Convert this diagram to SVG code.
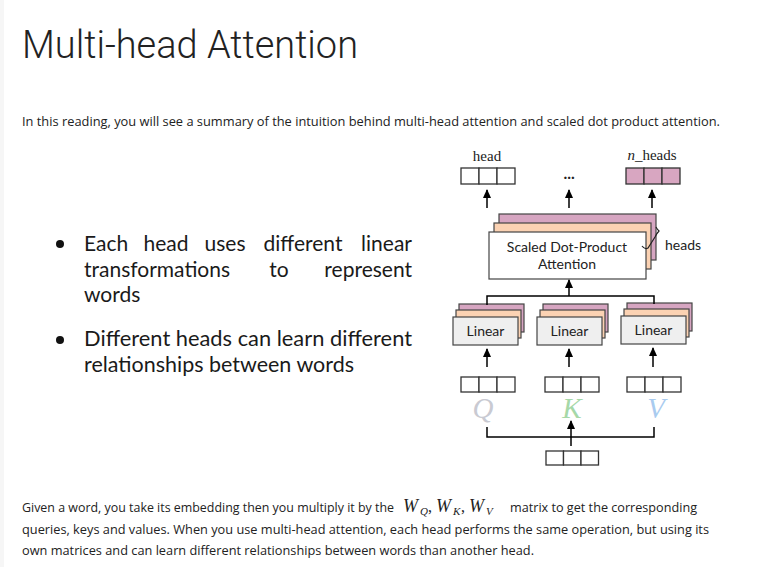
<svg xmlns="http://www.w3.org/2000/svg" width="769" height="567" viewBox="0 0 769 567">
<defs>
<marker id="ah" viewBox="0 0 10 10" refX="9" refY="5" markerWidth="9" markerHeight="9" orient="auto" markerUnits="userSpaceOnUse">
<path d="M0,0.5 L10,5 L0,9.5 z" fill="#000"/>
</marker>
<style>
.title{font-family:Roboto,"Liberation Sans",sans-serif;font-weight:300;font-size:38px;fill:#222}
.body{font-family:"Open Sans","Liberation Sans",sans-serif;font-size:13px;fill:#222}
.bul{font-family:Lato,"Liberation Sans",sans-serif;font-weight:400;font-size:21px;fill:#1a1a1a}
.lbl{font-family:Lato,"Liberation Sans",sans-serif;font-weight:400;font-size:14px;fill:#222}
.ser{font-family:"Liberation Serif","DejaVu Serif",serif;font-size:15px;fill:#222}
.mw{font-family:"Liberation Serif","DejaVu Serif",serif;font-style:italic;font-size:18px;fill:#222}
.ms{font-family:"Liberation Serif","DejaVu Serif",serif;font-style:italic;font-size:11px;fill:#222}
.mc{font-family:"Liberation Serif","DejaVu Serif",serif;font-size:16px;fill:#222}
.qkv{font-family:"Liberation Serif","DejaVu Serif",serif;font-style:italic;font-size:29px}
.cell{fill:#fff;stroke:#333;stroke-width:1.3}
.pcell{fill:#d8a6c1;stroke:#333;stroke-width:1.3}
.pink{fill:#d6a5c1;stroke:#444;stroke-width:1.2}
.orange{fill:#fbd2b3;stroke:#444;stroke-width:1.2}
.white{fill:#fff;stroke:#444;stroke-width:1.2}
.gray{fill:#efefef;stroke:#444;stroke-width:1.2}
.conn{fill:none;stroke:#000;stroke-width:1.5}
</style>
</defs>
<rect x="0" y="0" width="769" height="567" fill="#fff"/>
<rect x="0" y="0" width="4" height="567" fill="#f6f6f6"/>

<g id="title"><text class="title" x="22" y="58" textLength="336" lengthAdjust="spacingAndGlyphs">Multi-head Attention</text></g>
<g id="intro"><text class="body" x="22" y="126" textLength="698" lengthAdjust="spacingAndGlyphs">In this reading, you will see a summary of the intuition behind multi-head attention and scaled dot product attention.</text></g>

<g id="bullets">
<circle cx="60" cy="244" r="4" fill="#111"/>
<text class="bul" x="84" y="251">Each</text>
<text class="bul" x="166" y="251" text-anchor="middle">head</text>
<text class="bul" x="225" y="251" text-anchor="middle">uses</text>
<text class="bul" x="303" y="251" text-anchor="middle">different</text>
<text class="bul" x="412" y="251" text-anchor="end">linear</text>
<text class="bul" x="84" y="277">transformations</text>
<text class="bul" x="279" y="277" text-anchor="middle">to</text>
<text class="bul" x="412" y="277" text-anchor="end">represent</text>
<text class="bul" x="84" y="302">words</text>
<circle cx="60" cy="340" r="4" fill="#111"/>
<text class="bul" x="84" y="346" textLength="328" lengthAdjust="spacingAndGlyphs">Different heads can learn different</text>
<text class="bul" x="84" y="372" textLength="270" lengthAdjust="spacingAndGlyphs">relationships between words</text>
</g>

<g id="head-out">
<text class="ser" x="487" y="161" text-anchor="middle">head</text>
<rect class="cell" x="461" y="168" width="18" height="16"/>
<rect class="cell" x="479" y="168" width="18" height="16"/>
<rect class="cell" x="497" y="168" width="18" height="16"/>
</g>
<g id="dots"><text class="ser" x="569" y="179" text-anchor="middle" font-weight="bold">...</text></g>
<g id="nheads-out">
<text class="ser" x="652" y="160" text-anchor="middle"><tspan font-style="italic">n</tspan>_heads</text>
<rect class="pcell" x="626" y="168" width="18" height="16"/>
<rect class="pcell" x="644" y="168" width="18" height="16"/>
<rect class="pcell" x="662" y="168" width="18" height="16"/>
</g>

<g id="sdpa">
<rect class="pink" x="499" y="214" width="157" height="46"/>
<rect class="orange" x="494" y="223" width="157" height="46"/>
<rect class="white" x="489" y="232" width="157" height="47"/>
<text class="lbl" x="567" y="252" text-anchor="middle">Scaled Dot-Product</text>
<text class="lbl" x="567" y="269" text-anchor="middle">Attention</text>
<path d="M642,246 Q645,250 648,248 L655,237 Q657,233 659,231 Q657,229 656,227" fill="none" stroke="#222" stroke-width="1.2"/>
<text class="lbl" x="665" y="250">heads</text>
</g>

<g id="linear-q">
<rect class="pink" x="459" y="304" width="65" height="28"/>
<rect class="orange" x="456" y="310" width="65" height="28"/>
<rect class="gray" x="453" y="317" width="65" height="28"/>
<text class="lbl" x="485.5" y="336" text-anchor="middle">Linear</text>
</g>
<g id="linear-k">
<rect class="pink" x="543" y="304" width="65" height="28"/>
<rect class="orange" x="540" y="310" width="65" height="28"/>
<rect class="gray" x="537" y="317" width="65" height="28"/>
<text class="lbl" x="569.5" y="336" text-anchor="middle">Linear</text>
</g>
<g id="linear-v">
<rect class="pink" x="627" y="303" width="65" height="28"/>
<rect class="orange" x="624" y="309" width="65" height="28"/>
<rect class="gray" x="621" y="316" width="65" height="28"/>
<text class="lbl" x="653.5" y="335" text-anchor="middle">Linear</text>
</g>

<g id="q-in">
<rect class="cell" x="461" y="377" width="18" height="15"/>
<rect class="cell" x="479" y="377" width="18" height="15"/>
<rect class="cell" x="497" y="377" width="18" height="15"/>
<text class="qkv" x="483" y="418" text-anchor="middle" fill="#c9cad2">Q</text>
</g>
<g id="k-in">
<rect class="cell" x="545" y="377" width="18" height="15"/>
<rect class="cell" x="563" y="377" width="18" height="15"/>
<rect class="cell" x="581" y="377" width="18" height="15"/>
<text class="qkv" x="572" y="418" text-anchor="middle" fill="#a6d8a8">K</text>
</g>
<g id="v-in">
<rect class="cell" x="627" y="377" width="18" height="15"/>
<rect class="cell" x="645" y="377" width="18" height="15"/>
<rect class="cell" x="663" y="377" width="18" height="15"/>
<text class="qkv" x="656" y="418" text-anchor="middle" fill="#a9cbef">V</text>
</g>
<g id="embedding">
<rect class="cell" x="546" y="451" width="17.5" height="14"/>
<rect class="cell" x="563.5" y="451" width="17.5" height="14"/>
<rect class="cell" x="581" y="451" width="17.5" height="14"/>
</g>

<g id="connectors">
<line class="conn" x1="487" y1="208" x2="487" y2="190" marker-end="url(#ah)"/>
<line class="conn" x1="569" y1="208" x2="569" y2="190" marker-end="url(#ah)"/>
<line class="conn" x1="652" y1="208" x2="652" y2="190" marker-end="url(#ah)"/>
<path class="conn" d="M487,305 V296 H654 V304"/>
<line class="conn" x1="569" y1="296" x2="569" y2="280" marker-end="url(#ah)"/>
<line class="conn" x1="487" y1="367" x2="487" y2="349" marker-end="url(#ah)"/>
<line class="conn" x1="569" y1="367" x2="569" y2="349" marker-end="url(#ah)"/>
<line class="conn" x1="653" y1="367" x2="653" y2="348" marker-end="url(#ah)"/>
<path class="conn" d="M487,427 V437 H654 V427"/>
<line class="conn" x1="571" y1="446" x2="571" y2="421" marker-end="url(#ah)"/>
</g>

<g id="para">
<text class="body" x="22" y="512" font-size="12.3" style="font-size:12.3px" textLength="372" lengthAdjust="spacingAndGlyphs">Given a word, you take its embedding then you multiply it by the</text>
<text class="mw" x="403" y="512">W</text><text class="ms" x="420" y="515">Q</text><text class="mc" x="428" y="512">,</text>
<text class="mw" x="436" y="512">W</text><text class="ms" x="453" y="515">K</text><text class="mc" x="461" y="512">,</text>
<text class="mw" x="469" y="512">W</text><text class="ms" x="486" y="515">V</text>
<text class="body" x="510" y="512" textLength="187" lengthAdjust="spacingAndGlyphs">matrix to get the corresponding</text>
<text class="body" x="22" y="534" textLength="687" lengthAdjust="spacingAndGlyphs">queries, keys and values. When you use multi-head attention, each head performs the same operation, but using its</text>
<text class="body" x="22" y="555" textLength="512" lengthAdjust="spacingAndGlyphs">own matrices and can learn different relationships between words than another head.</text>
</g>
</svg>
